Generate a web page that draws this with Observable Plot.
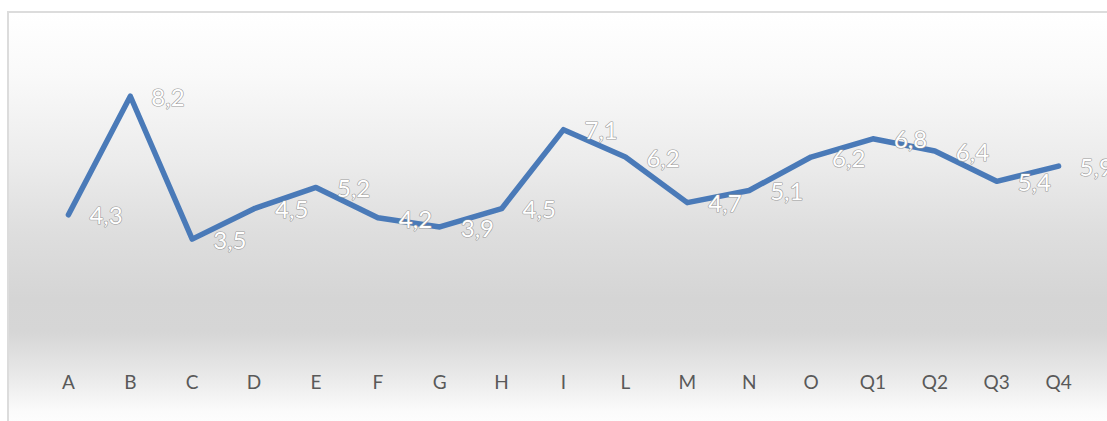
<!DOCTYPE html>
<html>
<head>
<meta charset="utf-8">
<script src="https://cdn.jsdelivr.net/npm/d3@7"></script>
<script src="https://cdn.jsdelivr.net/npm/@observablehq/plot@0.6"></script>
<style>
  html, body { margin: 0; padding: 0; background: #ffffff; }
  #wrap { position: relative; width: 1107px; height: 421px; overflow: hidden; }
  #frame {
    position: absolute; left: 7px; top: 11px; width: 1110px; height: 420px;
    border-left: 2px solid #dcdcdc; border-top: 2px solid #dcdcdc;
    background: linear-gradient(to bottom, #ffffff 0%, #f9f9f9 15%, #ececec 35%, #dedede 52%, #d5d5d5 68%, #d6d6d6 76%, #e8e8e8 86%, #fbfbfb 95%, #ffffff 100%);
  }
  #chart { position: absolute; left: 0; top: 0; }
  #chart svg { background: transparent; }
</style>
</head>
<body>
<div id="wrap"><div id="frame"></div><div id="chart"></div></div>
<script>
const categories = ["A","B","C","D","E","F","G","H","I","L","M","N","O","Q1","Q2","Q3","Q4"];
const values = [4.3, 8.2, 3.5, 4.5, 5.2, 4.2, 3.9, 4.5, 7.1, 6.2, 4.7, 5.1, 6.2, 6.8, 6.4, 5.4, 5.9];

const data = categories.map((c, i) => ({cat: c, v: values[i]}));
const fmt = v => v.toFixed(1).replace(".", ",");

const plot = Plot.plot({
  width: 1107,
  height: 421,
  marginLeft: 37,
  marginRight: 18,
  marginTop: 41,
  marginBottom: 76,
  style: {background: "transparent", fontFamily: "Lato, 'Open Sans', sans-serif"},
  x: {type: "point", domain: categories, padding: 0.5, round: false},
  y: {domain: [0, 10], axis: null},
  marks: [
    Plot.axisX({tickSize: 0, tickPadding: 30, fontSize: 19, color: "#595959", label: null}),
    Plot.line(data, {x: "cat", y: "v", stroke: "#4a7ab8", strokeWidth: 5.5, strokeLinejoin: "round", strokeLinecap: "round"}),
    Plot.text(data, {x: "cat", y: "v", text: d => fmt(d.v), dx: 21, dy: 2, textAnchor: "start", lineAnchor: "middle",
      fill: "#ffffff", stroke: "#9a9a9a", strokeWidth: 1.2, fontSize: 24})
  ]
});
document.getElementById("chart").appendChild(plot);
</script>
</body>
</html>
